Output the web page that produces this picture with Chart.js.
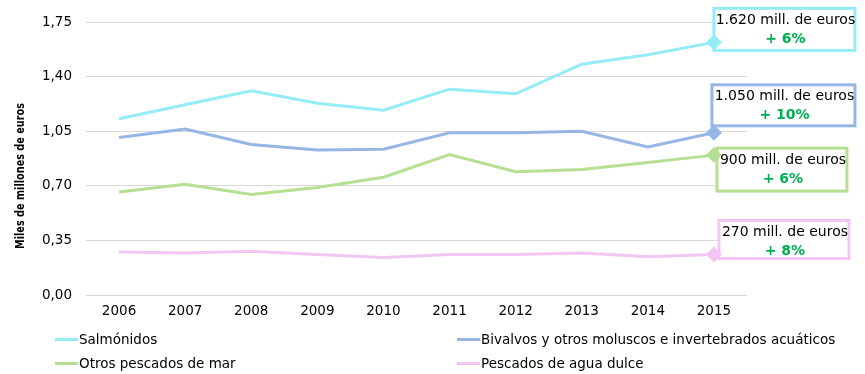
<!DOCTYPE html>
<html lang="es">
<head>
    <meta charset="UTF-8">
    <title>Valor de la acuicultura</title>
    <style>
        body {
            margin: 0;
            background: #fff;
            font-family: 'DejaVu Sans', sans-serif;
        }

        .wrap {
            position: relative;
            width: 865px;
            height: 374px;
        }

        /* Legend in two columns under the axis */
        .legend {
            position: absolute;
            left: 0;
            top: 0;
            width: 865px;
            height: 374px;
            pointer-events: none;
        }

        .legend .item {
            position: absolute;
            font-size: 13.5px;
            color: #000;
            display: flex;
            align-items: center;
            white-space: nowrap;
        }

        .legend .swatch {
            display: inline-block;
            width: 23px;
            height: 3px;
            margin-right: 1px;
        }
    </style>
    <script src="https://cdn.jsdelivr.net/npm/chart.js"></script>
</head>
<body>
    <div class="wrap">
        <canvas id="aquaChart" width="865" height="374"></canvas>
        <div class="legend" id="legend"></div>
    </div>

    <script>
        // Data (miles de millones de euros)
        const years = ['2006', '2007', '2008', '2009', '2010', '2011', '2012', '2013', '2014', '2015'];
        const seriesNames = [
            'Salmónidos',
            'Bivalvos y otros moluscos e invertebrados acuáticos',
            'Otros pescados de mar',
            'Pescados de agua dulce'
        ];
        const salmonidos = [1.13, 1.22, 1.31, 1.23, 1.185, 1.32, 1.29, 1.48, 1.54, 1.62];
        const bivalvos = [1.01, 1.065, 0.965, 0.93, 0.935, 1.04, 1.04, 1.05, 0.95, 1.04];
        const otrosMar = [0.66, 0.71, 0.645, 0.69, 0.755, 0.90, 0.79, 0.805, 0.85, 0.897];
        const aguaDulce = [0.275, 0.27, 0.28, 0.26, 0.24, 0.26, 0.26, 0.27, 0.245, 0.26];
        const yTicks = [0, 0.35, 0.70, 1.05, 1.40, 1.75];
        const valueLabels = ['1.620 mill. de euros', '1.050 mill. de euros', '900 mill. de euros', '270 mill. de euros'];
        const growthLabels = ['+ 6%', '+ 10%', '+ 6%', '+ 8%'];

        const colors = ['#94ecf7', '#96b6e6', '#b6df92', '#f3c5f5'];
        const greenText = '#00b050';

        // box placement relative to the last point of each series
        const boxes = [
            { dx: 0, dy: -34, w: 141, h: 42 },
            { dx: -2, dy: -48, w: 143, h: 41 },
            { dx: 3, dy: -7, w: 130, h: 43 },
            { dx: 5, dy: -34, w: 130, h: 38 }
        ];

        const allSeries = [salmonidos, bivalvos, otrosMar, aguaDulce];
        const lastIdx = years.length - 1;

        const datasets = allSeries.map((values, i) => ({
            label: seriesNames[i],
            data: values,
            borderColor: colors[i],
            backgroundColor: colors[i],
            borderWidth: 3,
            tension: 0,
            pointStyle: 'rectRot',
            pointRadius: values.map((v, j) => j === lastIdx ? 8 : 0),
            pointBorderWidth: 0,
            pointBackgroundColor: colors[i],
            clip: false
        }));

        // labelled boxes next to the 2015 values
        const endLabels = {
            id: 'endLabels',
            beforeDatasetsDraw(chart) {
                const ctx = chart.ctx;
                ctx.save();
                chart.data.datasets.forEach((ds, i) => {
                    const pt = chart.getDatasetMeta(i).data[lastIdx];
                    const b = boxes[i];
                    const x = pt.x + b.dx;
                    const y = pt.y + b.dy;
                    ctx.fillStyle = '#fff';
                    ctx.fillRect(x, y, b.w, b.h);
                    ctx.strokeStyle = colors[i];
                    ctx.lineWidth = 3;
                    ctx.strokeRect(x, y, b.w, b.h);

                    const cx = x + b.w / 2 + 1;
                    ctx.textAlign = 'center';
                    ctx.textBaseline = 'middle';
                    ctx.fillStyle = '#000';
                    ctx.font = '14px "DejaVu Sans"';
                    ctx.fillText(valueLabels[i], cx, y + 12);
                    ctx.fillStyle = greenText;
                    ctx.font = 'bold 14px "DejaVu Sans"';
                    ctx.fillText(growthLabels[i], cx, y + 31);
                });
                ctx.restore();
            }
        };

        // rotated axis title, sits a bit below the centre like the original
        const yTitle = {
            id: 'yTitle',
            afterDraw(chart) {
                const ctx = chart.ctx;
                ctx.save();
                ctx.translate(21, 176);
                ctx.rotate(-Math.PI / 2);
                ctx.textAlign = 'center';
                ctx.textBaseline = 'middle';
                ctx.fillStyle = '#000';
                ctx.font = 'bold 12.5px "DejaVu Sans"';
                ctx.fillText('Miles de millones de euros', 0, 0, 146);
                ctx.restore();
            }
        };

        const ctx = document.getElementById('aquaChart').getContext('2d');
        const aquaChart = new Chart(ctx, {
            type: 'line',
            data: {
                labels: years,
                datasets: datasets
            },
            options: {
                responsive: false,
                animation: false,
                layout: {
                    padding: { top: 14, right: 118, bottom: 0, left: 0 }
                },
                plugins: {
                    legend: { display: false },
                    tooltip: { enabled: false }
                },
                scales: {
                    x: {
                        offset: true,
                        grid: { display: false, drawTicks: false },
                        border: { display: false },
                        ticks: {
                            color: '#000',
                            font: { family: 'DejaVu Sans', size: 13.5 },
                            padding: 8,
                            maxRotation: 0
                        },
                        afterFit(scale) { scale.height = 79; }
                    },
                    y: {
                        min: 0,
                        max: 1.75,
                        afterBuildTicks(scale) {
                            scale.ticks = yTicks.map(v => ({ value: v }));
                        },
                        grid: { color: '#d9d9d9', lineWidth: 1, drawTicks: false },
                        border: { display: false },
                        ticks: {
                            color: '#000',
                            font: { family: 'DejaVu Sans', size: 13.5 },
                            padding: 14,
                            callback: v => v.toFixed(2).replace('.', ',')
                        },
                        afterFit(scale) { scale.width = 86; }
                    }
                }
            },
            plugins: [endLabels, yTitle]
        });

        // two column legend below the years
        const legendPos = [
            { left: 55, top: 340 },
            { left: 457, top: 340 },
            { left: 55, top: 364 },
            { left: 457, top: 364 }
        ];
        const legend = document.getElementById('legend');
        seriesNames.forEach((name, i) => {
            const item = document.createElement('div');
            item.className = 'item';
            item.style.left = legendPos[i].left + 'px';
            item.style.top = (legendPos[i].top - 9) + 'px';
            item.innerHTML = '<span class="swatch" style="background:' + colors[i] + '"></span>' + name;
            legend.appendChild(item);
        });
    </script>
</body>
</html>
